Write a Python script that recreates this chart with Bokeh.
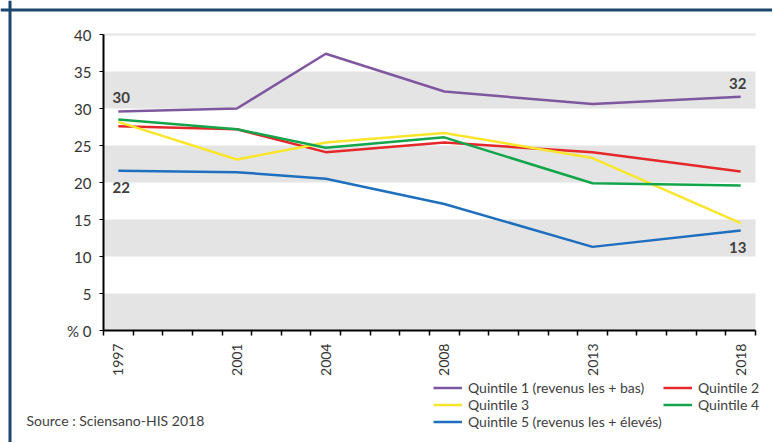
import math
from bokeh.plotting import figure
from bokeh.models import (FixedTicker, Range1d, Legend, LegendItem, Label, Span,
                          ColumnDataSource)
from bokeh.core.properties import value
from bokeh.embed import file_html
from bokeh.resources import INLINE

# ---- data ----
years = [1997, 2001, 2004, 2008, 2013, 2018]
q1 = [29.6, 30.0, 37.4, 32.3, 30.6, 31.6]
q2 = [27.6, 27.2, 24.1, 25.4, 24.1, 21.5]
q3 = [28.2, 23.1, 25.4, 26.7, 23.3, 14.5]
q4 = [28.5, 27.2, 24.7, 26.1, 19.9, 19.6]
q5 = [21.6, 21.4, 20.5, 17.1, 11.3, 13.5]
series_names = ["Quintile 1 (revenus les + bas)", "Quintile 2", "Quintile 3",
                "Quintile 4", "Quintile 5 (revenus les + élevés)"]
y_ticks = [0, 5, 10, 15, 20, 25, 30, 35, 40]
label_texts = ["30", "22", "32", "13"]
source_text = "Source : Sciensano-HIS 2018"

colors = ["#7f57a0", "#e5282a", "#f9e62c", "#13a54b", "#1f6fbf"]
FONT = "Lato"

# ---- layout (pixels) ----
W, H = 772, 442
PL, PR = 103, 755      # plot area left / right
PT, PB = 34, 330       # plot area top / bottom

x0 = years[0] - 0.5
x1 = years[-1] + 0.5
y0 = y_ticks[0]
y1 = y_ticks[-1]
sx = (PR - PL) / (x1 - x0)
sy = (PB - PT) / (y1 - y0)
x_range = Range1d(x0 - PL / sx, x1 + (W - PR) / sx)
y_range = Range1d(y0 - (H - PB) / sy, y1 + PT / sy)

p = figure(width=W, height=H, output_backend="svg", toolbar_location=None,
           x_range=x_range, y_range=y_range,
           min_border_left=0, min_border_right=0, min_border_top=0,
           min_border_bottom=0)
p.title.visible = False
p.outline_line_color = None
p.background_fill_color = "white"
p.border_fill_color = "white"
p.grid.visible = False

# grey bands
band_b = [y_ticks[i] for i in range(0, len(y_ticks) - 1, 2)]
band_t = [y_ticks[i + 1] for i in range(0, len(y_ticks) - 1, 2)]
p.quad(left=x0, right=x1, bottom=band_b, top=band_t, fill_color="#e4e4e4",
       line_color=None)
p.segment(x0=[x0], y0=[y1], x1=[x1], y1=[y1], line_color="#e4e4e4", line_width=2)

# frame border (top and left)
p.add_layout(Span(location=H - 9.5, location_units="screen", dimension="width",
                  line_color="#1c466e", line_width=3))
p.add_layout(Span(location=9.5, location_units="screen", dimension="height",
                  line_color="#1c466e", line_width=3))

# x axis
minor = [y - 0.5 for y in range(years[0], years[-1] + 2)]
p.xaxis.fixed_location = y0
p.xaxis.bounds = (x0, x1)
p.xaxis.ticker = FixedTicker(ticks=years, minor_ticks=minor)
p.xaxis.major_tick_out = 0
p.xaxis.major_tick_in = 0
p.xaxis.minor_tick_out = 5
p.xaxis.minor_tick_in = 0
p.xaxis.minor_tick_line_color = "black"
p.xaxis.minor_tick_line_width = 1.5
p.xaxis.axis_line_color = "black"
p.xaxis.axis_line_width = 2
p.xaxis.major_label_orientation = math.pi / 2
p.xaxis.major_label_text_font = FONT
p.xaxis.major_label_text_font_size = "14px"
p.xaxis.major_label_text_color = "#333333"
p.xaxis.major_label_standoff = 8

# y axis
p.yaxis.fixed_location = x0
p.yaxis.bounds = (y0, y1)
p.yaxis.ticker = FixedTicker(ticks=y_ticks)
p.yaxis.major_label_overrides = {0: "% 0"}
p.yaxis.minor_tick_line_color = None
p.yaxis.major_tick_out = 4
p.yaxis.major_tick_in = 0
p.yaxis.major_tick_line_color = "black"
p.yaxis.axis_line_color = "black"
p.yaxis.axis_line_width = 2
p.yaxis.major_label_text_font = FONT
p.yaxis.major_label_text_font_size = "15px"
p.yaxis.major_label_text_color = "#333333"
p.yaxis.major_label_standoff = 8

# lines
renderers = []
for vals, col in zip([q1, q2, q3, q4, q5], colors):
    r = p.line(years, vals, line_color=col, line_width=2.5)
    renderers.append(r)

# value labels
lab_src = ColumnDataSource(dict(
    x=[years[0], years[0], years[-1], years[-1]],
    y=[q1[0], q5[0], q1[-1], q5[-1]],
    t=label_texts,
    yo=[-14, 17, -13, 17],
    xo=[3, 3, -3, -3],
))
p.text(x="x", y="y", text="t", x_offset="xo", y_offset="yo", source=lab_src,
       text_font=value(FONT), text_font_size="15px", text_font_style="bold",
       text_color="#404040", text_align="center", text_baseline="middle")

# legends
def make_legend(idx, loc):
    leg = Legend(items=[LegendItem(label=series_names[i], renderers=[renderers[i]])
                        for i in idx],
                 location=loc, orientation="vertical")
    leg.label_text_font = FONT
    leg.label_text_font_size = "14px"
    leg.label_text_color = "#404040"
    leg.glyph_width = 29
    leg.glyph_height = 17
    leg.label_height = 17
    leg.label_standoff = 6
    leg.spacing = 0
    leg.padding = 0
    leg.margin = 0
    leg.border_line_color = None
    leg.background_fill_alpha = 0
    p.add_layout(leg, "center")

make_legend([0, 2, 4], (433, H - 429.5))
make_legend([1, 3], (663, H - 412.5))

p.add_layout(Label(x=26, y=H - 420, x_units="screen", y_units="screen",
                   text=source_text, text_font=FONT, text_font_size="14px",
                   text_color="#404040", text_baseline="middle"))

open("out.html", "w").write(file_html(p, INLINE))
